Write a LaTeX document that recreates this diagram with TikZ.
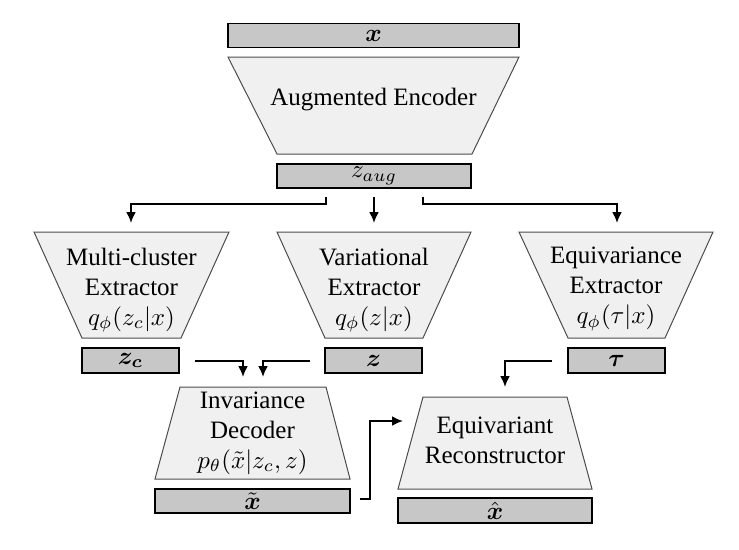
\documentclass[tikz,border=0pt]{standalone}
\usepackage{amsmath}
\usepackage{fontspec}
\setmainfont{Liberation Serif}
\usetikzlibrary{calc,arrows.meta}
\begin{document}
\begin{tikzpicture}[x=0.4pt,y=-0.4pt,
    box/.style={draw,fill=black!22,line width=0.5pt,inner sep=0pt},
    net/.style={draw=black!70,fill=black!6,line width=0.4pt},
    label/.style={align=center,inner sep=1pt},
    arr/.style={-{Latex[length=4.4pt,width=4pt]},line width=0.8pt}]
  \useasboundingbox (0,0) rectangle (739,549);
  % encoder
  \draw[net] (228,57) -- (519,57) -- (472,154) -- (277,154) -- cycle;
  \draw
    (373.5,35.5) node[box,minimum width=116.4pt,minimum height=9.6pt] (x){$\boldsymbol{x}$}
    (373.5,100) node[label] (enc){Augmented Encoder}
    (374,176) node[box,minimum width=77.6pt,minimum height=9.6pt] (zaug){$z_{aug}$};
  % extractors
  \draw[net] (34,232) -- (229,232) -- (181,338) -- (82,338) -- cycle;
  \draw[net] (277,232) -- (471,232) -- (423,338) -- (325,338) -- cycle;
  \draw[net] (519,232) -- (713,232) -- (665,338) -- (568,338) -- cycle;
  \draw
    (131.5,290) node[label] (mc){Multi-cluster\\Extractor\\$q_\phi(z_c|x)$}
    (374,290) node[label] (ve){Variational\\Extractor\\$q_\phi(z|x)$}
    (616,289) node[label] (ee){Equivariance\\Extractor\\$q_\phi(\tau|x)$}
    (130.5,360.5) node[box,minimum width=38.8pt,minimum height=10pt] (zc){$\boldsymbol{z_c}$}
    (373.5,360.5) node[box,minimum width=38.8pt,minimum height=10pt] (z){$\boldsymbol{z}$}
    (616.5,360.5) node[box,minimum width=38.8pt,minimum height=10pt] (tau){$\boldsymbol{\tau}$};
  % decoders
  \draw[net] (180,387) -- (326,387) -- (350,479) -- (155,479) -- cycle;
  \draw[net] (423,397) -- (567,397) -- (592,489) -- (398,489) -- cycle;
  \draw
    (252.5,433) node[label] (dec){Invariance\\Decoder\\$p_\theta(\tilde{x}|z_c,z)$}
    (495,440) node[label] (rec){Equivariant\\Reconstructor}
    (252.5,501) node[box,minimum width=78pt,minimum height=9.6pt] (xt){$\tilde{\boldsymbol{x}}$}
    (495,510.5) node[box,minimum width=77.6pt,minimum height=10pt] (xh){$\hat{\boldsymbol{x}}$};
  \coordinate (mcin) at (131,223);
  \coordinate (vein) at (374,223);
  \coordinate (eein) at (617,223);
  \coordinate (decin1) at (243,377);
  \coordinate (decin2) at (263,377);
  \coordinate (recin1) at (505,387);
  \coordinate (recin2) at (403,421);
  \begin{scope}[arr]
    \draw ($(zaug.south)+(-48,8)$) -- ++(0,7) -| (mcin);
    \draw ($(zaug.south)+(0,8)$) -- (vein);
    \draw ($(zaug.south)+(49,8)$) -- ++(0,7) -| (eein);
    \draw ($(zc.east)+(15,0)$) -| (decin1);
    \draw ($(z.west)+(-14,0)$) -| (decin2);
    \draw ($(tau.west)+(-15,0)$) -| (recin1);
    \draw ($(xt.east)+(9,-2)$) -- ++(10,0) |- (recin2);
  \end{scope}
\end{tikzpicture}
\end{document}
